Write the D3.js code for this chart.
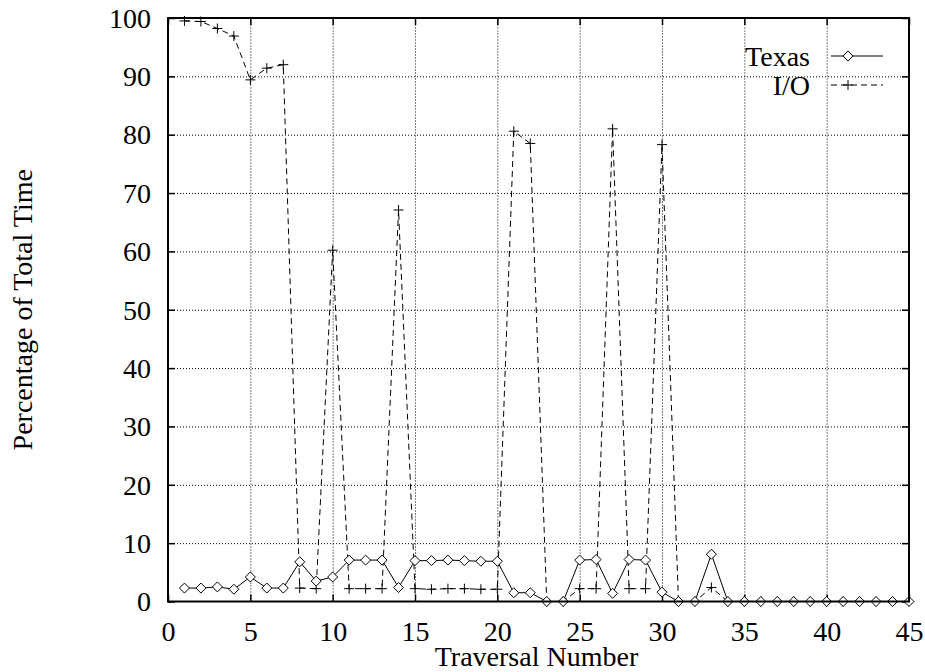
<!DOCTYPE html>
<html>
<head>
<meta charset="utf-8">
<script src="https://cdn.jsdelivr.net/npm/d3@7"></script>
<style>
  html, body { margin: 0; padding: 0; background: #fff; }
  svg { display: block; }
  text { font-family: "Liberation Serif", "Times New Roman", serif; fill: #000; }
</style>
</head>
<body>
<svg id="chart" width="925" height="672"></svg>
<script>
// Traversal numbers 1..45
const traversals = d3.range(1, 46);

// Percentage of total time spent in Texas per traversal
const texasValues = [
  2.3, 2.3, 2.5, 2.1, 4.2, 2.3, 2.3, 6.8, 3.5, 4.2,
  7.1, 7.1, 7.1, 2.4, 7.0, 7.0, 7.1, 7.0, 6.9, 6.9,
  1.5, 1.5, 0, 0, 7.1, 7.2, 1.4, 7.2, 7.1, 1.6,
  0, 0, 8.1, 0, 0, 0, 0, 0, 0, 0,
  0, 0, 0, 0, 0
];

// Percentage of total time spent in I/O per traversal
const ioValues = [
  99.5, 99.4, 98.2, 96.9, 89.4, 91.4, 92.0, 2.3, 2.2, 60.2,
  2.2, 2.2, 2.2, 67.1, 2.2, 2.1, 2.2, 2.2, 2.1, 2.1,
  80.6, 78.5, 0, 0, 2.2, 2.2, 81.0, 2.2, 2.2, 78.3,
  0, 0, 2.4, 0, 0, 0, 0, 0, 0, 0,
  0, 0, 0, 0, 0
];

const xTicks = [0, 5, 10, 15, 20, 25, 30, 35, 40, 45];
const yTicks = [0, 10, 20, 30, 40, 50, 60, 70, 80, 90, 100];

const seriesNames = ["Texas", "I/O"];

const svg = d3.select("#chart");
const plotLeft = 168, plotRight = 909, plotTop = 18, plotBottom = 601.5;
const W = plotRight - plotLeft, H = plotBottom - plotTop;

const x = d3.scaleLinear().domain([0, 45]).range([plotLeft, plotRight]);
const y = d3.scaleLinear().domain([0, 100]).range([plotBottom, plotTop]);

// dotted grid
const grid = svg.append("g").attr("class", "grid");
grid.append("g")
  .attr("transform", `translate(0,${plotBottom})`)
  .call(d3.axisBottom(x).tickValues(xTicks.slice(1, -1)).tickSize(-H).tickFormat(""))
  .call(g => g.select(".domain").remove());
grid.append("g")
  .attr("transform", `translate(${plotLeft},0)`)
  .call(d3.axisLeft(y).tickValues(yTicks.slice(1, -1)).tickSize(-W).tickFormat(""))
  .call(g => g.select(".domain").remove());
grid.selectAll("line")
  .attr("stroke", "#000")
  .attr("stroke-width", 1)
  .attr("stroke-dasharray", "1,2");

// inward ticks on all four sides
const tickLen = 7;
const ticks = svg.append("g").attr("class", "ticks");
ticks.append("g").attr("transform", `translate(0,${plotBottom})`)
  .call(d3.axisBottom(x).tickValues(xTicks).tickSize(-tickLen).tickFormat(""));
ticks.append("g").attr("transform", `translate(0,${plotTop})`)
  .call(d3.axisTop(x).tickValues(xTicks).tickSize(-tickLen).tickFormat(""));
ticks.append("g").attr("transform", `translate(${plotLeft},0)`)
  .call(d3.axisLeft(y).tickValues(yTicks).tickSize(-tickLen).tickFormat(""));
ticks.append("g").attr("transform", `translate(${plotRight},0)`)
  .call(d3.axisRight(y).tickValues(yTicks).tickSize(-tickLen).tickFormat(""));
ticks.selectAll(".domain").remove();
ticks.selectAll("line").attr("stroke", "#000").attr("stroke-width", 1.5);

// tick labels
const xLab = svg.append("g")
  .attr("transform", `translate(0,${plotBottom})`)
  .call(d3.axisBottom(x).tickValues(xTicks).tickSize(0).tickFormat(d3.format("d")));
xLab.select(".domain").remove();
xLab.selectAll("text")
  .attr("y", 39).attr("dy", 0)
  .style("font-family", "'Liberation Serif', serif")
  .style("font-size", "28px").attr("fill", "#000");

const yLab = svg.append("g")
  .attr("transform", `translate(${plotLeft},0)`)
  .call(d3.axisLeft(y).tickValues(yTicks).tickSize(0).tickPadding(17).tickFormat(d3.format("d")));
yLab.select(".domain").remove();
yLab.selectAll("text")
  .attr("dy", "0.33em")
  .style("font-family", "'Liberation Serif', serif")
  .style("font-size", "28px").attr("fill", "#000");

// axis titles
svg.append("text")
  .attr("x", (plotLeft + plotRight) / 2 - 2).attr("y", 666)
  .attr("text-anchor", "middle")
  .style("font-size", "28px")
  .text("Traversal Number");

svg.append("text")
  .attr("transform", `translate(32,${(plotTop + plotBottom) / 2}) rotate(-90)`)
  .attr("text-anchor", "middle")
  .style("font-size", "28px")
  .text("Percentage of Total Time");

// data lines
const texas = traversals.map((t, i) => ({ t, v: texasValues[i] }));
const io = traversals.map((t, i) => ({ t, v: ioValues[i] }));
const line = d3.line().x(d => x(d.t)).y(d => y(d.v));

svg.append("path").datum(io)
  .attr("d", line).attr("fill", "none")
  .attr("stroke", "#000").attr("stroke-width", 1)
  .attr("stroke-dasharray", "6,4");

svg.append("path").datum(texas)
  .attr("d", line).attr("fill", "none")
  .attr("stroke", "#000").attr("stroke-width", 1);

const ms = 5;
const diamond = (cx, cy) => `M${cx},${cy - ms}L${cx + ms},${cy}L${cx},${cy + ms}L${cx - ms},${cy}Z`;
const plus = (cx, cy) => `M${cx - ms},${cy}H${cx + ms}M${cx},${cy - ms}V${cy + ms}`;

svg.append("g").selectAll("path").data(io).join("path")
  .attr("d", d => plus(x(d.t), y(d.v)))
  .attr("stroke", "#000").attr("stroke-width", 1).attr("fill", "none");

svg.append("g").selectAll("path").data(texas).join("path")
  .attr("d", d => diamond(x(d.t), y(d.v)))
  .attr("stroke", "#000").attr("stroke-width", 1).attr("fill", "#fff");

// frame
svg.append("rect")
  .attr("x", plotLeft).attr("y", plotTop).attr("width", W).attr("height", H)
  .attr("fill", "none").attr("stroke", "#000").attr("stroke-width", 2);

// legend
const legend = svg.append("g");
const legendRows = [
  { name: seriesNames[0], y: 56, dash: null, marker: diamond },
  { name: seriesNames[1], y: 85, dash: "6,4", marker: plus }
];
legendRows.forEach(r => {
  legend.append("text")
    .attr("x", 810).attr("y", r.y + 9.5)
    .attr("text-anchor", "end")
    .style("font-size", "28px")
    .text(r.name);
  legend.append("line")
    .attr("x1", 831).attr("x2", 883).attr("y1", r.y).attr("y2", r.y)
    .attr("stroke", "#000").attr("stroke-width", 1)
    .attr("stroke-dasharray", r.dash);
  legend.append("path")
    .attr("d", r.marker(848, r.y))
    .attr("stroke", "#000").attr("stroke-width", 1).attr("fill", "#fff");
});
</script>
</body>
</html>
